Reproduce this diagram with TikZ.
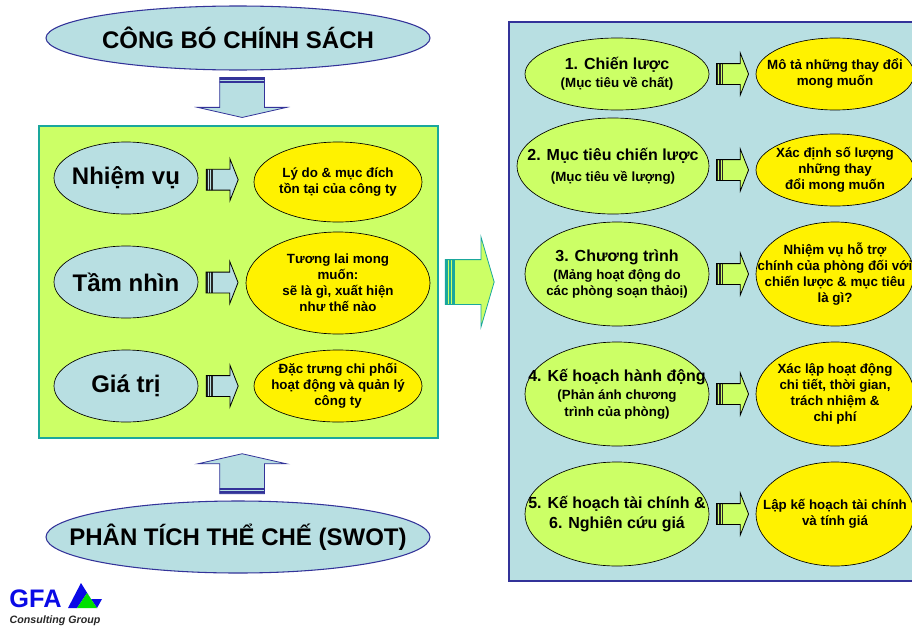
\documentclass[tikz,border=0pt]{standalone}
\usepackage{fontspec}
\setmainfont{Liberation Sans}
\usetikzlibrary{shapes.geometric,shapes.arrows}
\definecolor{paleblue}{HTML}{B8DFE2}
\definecolor{lime}{HTML}{CCFF66}
\definecolor{navy}{HTML}{333399}
\definecolor{teal}{HTML}{1AA79C}
\definecolor{gfablue}{HTML}{0A0AE6}
\definecolor{gfagreen}{HTML}{00E000}
\newcommand{\subline}{\fontsize{10}{11}\selectfont}
\tikzset{ov/.style 2 args={ellipse,inner sep=-25pt,align=center,minimum width=#1pt,minimum height=#2pt}}
\tikzset{title/.style={draw=navy,fill=paleblue,line width=.8pt,font=\fontsize{18}{22}\selectfont\bfseries}}
\tikzset{blue/.style={draw=black,fill=paleblue,line width=.5pt,font=\fontsize{18}{22}\selectfont\bfseries}}
\tikzset{yel/.style={draw=black,fill=yellow,line width=.5pt,font=\fontsize{10}{12}\selectfont\bfseries}}
\tikzset{limeov/.style={draw=black,fill=lime,line width=.5pt,font=\fontsize{12}{14}\selectfont\bfseries}}
\tikzset{blockarrow/.style={single arrow,inner xsep=0pt,outer sep=0pt,line width=.6pt}}
\tikzset{rbars/.style 2 args={path picture={
    \draw[#1,line width=#2*.8] ([xshift=#2*.4]path picture bounding box.south west) -- ([xshift=#2*.4]path picture bounding box.north west)
      ([xshift=#2*1.5]path picture bounding box.south west) -- ([xshift=#2*1.5]path picture bounding box.north west)
      ([xshift=#2*2.6]path picture bounding box.south west) -- ([xshift=#2*2.6]path picture bounding box.north west);}}}
\tikzset{dbars/.style={path picture={
    \draw[navy,line width=1.7pt] ([yshift=-.85pt]path picture bounding box.north west) -- ([yshift=-.85pt]path picture bounding box.north east)
      ([yshift=-3.6pt]path picture bounding box.north west) -- ([yshift=-3.6pt]path picture bounding box.north east);}}}
\tikzset{ubars/.style={path picture={
    \draw[navy,line width=1.7pt] ([yshift=.85pt]path picture bounding box.south west) -- ([yshift=.85pt]path picture bounding box.south east)
      ([yshift=3.6pt]path picture bounding box.south west) -- ([yshift=3.6pt]path picture bounding box.south east);}}}
\tikzset{rarr/.style={blockarrow,draw=black,inner ysep=7.5pt,minimum height=24pt,single arrow head extend=7.9pt,single arrow tip angle=137,xshift=-1.5pt,rbars={black!85}{1.7pt}}}
\tikzset{darr/.style={blockarrow,draw=navy,fill=paleblue,inner xsep=16.5pt,inner ysep=0pt,minimum height=30pt,single arrow head extend=16.5pt,single arrow tip angle=154.4,shape border rotate=270,yshift=2.25pt,dbars}}
\tikzset{uarr/.style={blockarrow,draw=navy,fill=paleblue,inner xsep=16.5pt,inner ysep=0pt,minimum height=30pt,single arrow head extend=16.5pt,single arrow tip angle=154.4,shape border rotate=90,yshift=-2.25pt,ubars}}
\begin{document}
\begin{tikzpicture}[x=.75pt,y=-.75pt]
      \clip[use as bounding box] (0,0) rectangle (912,628);
      \node[ov={288}{48},title] (cb) at (238,38) {CÔNG BÓ CHÍNH SÁCH};
      \node[rectangle,draw=teal,fill=lime,line width=1pt,minimum width=299.25pt,minimum height=234pt] (box) at (238.5,282) {};
      \node[ov={288}{54},title] (pt) at (238,537) {PHÂN TÍCH THỂ CHẾ (SWOT)};
      \node[ov={108}{54},blue] (nv) at (126,178) {Nhiệm vụ};
      \node[ov={108}{54},blue] (tn) at (126,282) {Tầm nhìn};
      \node[ov={108}{54},blue] (gt) at (126,386) {Giá trị};
      \node[ov={126}{60},yel] (ld) at (338,182) {Lý do \& mục đích\\tồn tại của công ty};
      \node[ov={138}{76.5},yel] (tl) at (338,283) {Tương lai mong\\muốn:\\sẽ là gì, xuất hiện\\như thế nào};
      \node[ov={126}{54},yel] (dt) at (338,386) {Đặc trưng chi phối\\hoạt động và quản lý\\công ty};
      \path (cb) -- node[darr,xshift=3pt] (a0) {} (box);
      \path (pt) -- node[uarr,xshift=3pt,pos=.44] (a1) {} (box);
      \path (nv.east) -- node[rarr,fill=paleblue,pos=.43] (a2) {} (ld.west);
      \path (tn.east) -- node[rarr,fill=paleblue] (a3) {} (tl.west);
      \path (gt.east) -- node[rarr,fill=paleblue,pos=.43] (a4) {} (dt.west);
      \node[rectangle,draw=navy,fill=paleblue,line width=.8pt,minimum width=304.5pt,minimum height=419.25pt] (panel) at (712,301.5) {};
      \path (box.east) -- node[blockarrow,draw=teal,fill=lime,pos=.44,xshift=-2.25pt,inner ysep=16.5pt,minimum height=36.75pt,single arrow head extend=16.9pt,single arrow tip angle=147.4,rbars={teal}{2.4pt}] (a5) {} (panel.west |- box.east);
      \node[ov={138}{54},limeov] (m1) at (617,74) {1. Chiến lược\\[-.5pt]\subline (Mục tiêu về chất)};
      \node[ov={144}{72},limeov] (m2) at (613,166) {2. Mục tiêu chiến lược\\[1.5pt]\subline (Mục tiêu về lượng)};
      \node[ov={138}{78},limeov] (m3) at (617,274) {3. Chương trình\\[-.5pt]\subline (Mảng hoạt động do\\[-1.5pt]\subline các phòng soạn thảoị)};
      \node[ov={138}{78},limeov] (m4) at (617,394) {4. Kế hoạch hành động\\[-.5pt]\subline (Phản ánh chương\\[-1.5pt]\subline trình của phòng)};
      \node[ov={138}{78},limeov] (m5) at (617,514) {5. Kế hoạch tài chính \&\\[.8pt]6. Nghiên cứu giá};
      \node[ov={118.5}{54},yel] (g1) at (835,74) {Mô tả những thay đổi\\mong muốn};
      \node[ov={118.5}{54},yel] (g2) at (835,170) {Xác định số lượng\\những thay\\đổi mong muốn};
      \node[ov={118.5}{78},yel] (g3) at (835,274) {Nhiệm vụ hỗ trợ\\chính của phòng đối với\\chiến lược \& mục tiêu\\là gì?};
      \node[ov={118.5}{78},yel] (g4) at (835,394) {Xác lập hoạt động\\chi tiết, thời gian,\\trách nhiệm \&\\chi phí};
      \node[ov={118.5}{78},yel] (g5) at (835,514) {Lập kế hoạch tài chính\\và tính giá};
      \path (m1.east) -- node[rarr,fill=lime] (r1) {} (g1.west);
      \path (m2.east) -- node[rarr,fill=lime,pos=.5,yshift=-1.5pt] (r2) {} (g2.west);
      \path (m3.east) -- node[rarr,fill=lime] (r3) {} (g3.west);
      \path (m4.east) -- node[rarr,fill=lime] (r4) {} (g4.west);
      \path (m5.east) -- node[rarr,fill=lime] (r5) {} (g5.west);
      \node[inner sep=0pt,text=gfablue,font=\fontsize{19}{22}\selectfont\bfseries] (gfa) at (35.5,599) {GFA};
      \node[inner sep=0pt,font=\fontsize{8}{9}\selectfont\bfseries\itshape,text=black!85] (cg) at (55,621) {Consulting Group};
      \fill[gfablue] (81,583) -- (91,599) -- (102,599) -- (97,608) -- (87,593) -- (77,608) -- (68,608) -- cycle;
      \fill[gfagreen] (87,593) -- (77,608) -- (97,608) -- cycle;
    \end{tikzpicture}
\end{document}
